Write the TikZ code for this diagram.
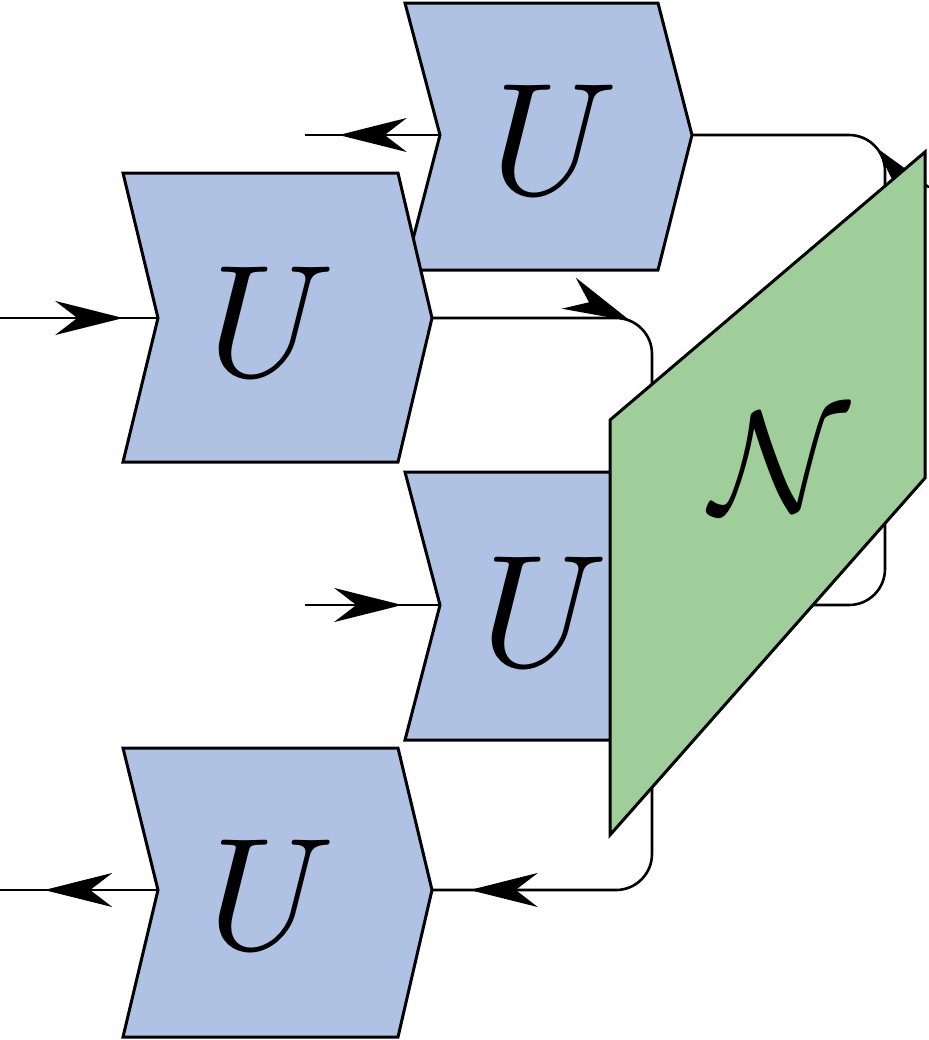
\documentclass[tikz,border=0pt]{standalone}
\usetikzlibrary{arrows.meta,decorations.markings}
\definecolor{ublue}{RGB}{176,194,228}
\definecolor{ngreen}{RGB}{160,206,155}
\tikzset{
 ubox/.style={draw=black,fill=ublue,line width=1.5pt,line join=miter},
 nbox/.style={draw=black,fill=ngreen,line width=1.5pt},
 wire/.style={line width=1.3pt,rounded corners=18pt},
 arrowat/.style={postaction={decorate},decoration={markings,mark=at position #1 with {\arrow{Stealth[length=34pt,width=17pt]}}}},
 lbl/.style={scale=8,inner sep=0pt}
}
\begin{document}
\begin{tikzpicture}[x=0.5pt,y=-0.5pt]
\useasboundingbox (0,0) rectangle (928,1040);
% chevrons
\draw[ubox] (405,3)--(658,3)--(692,135)--(658,270)--(405,270)--(440,135)--cycle;
\node[lbl] (u1) at (555,140) {$U$};
\draw[ubox] (123,173)--(398,173)--(432,318)--(398,462)--(123,462)--(158,318)--cycle;
\node[lbl] (u2) at (272,322) {$U$};
\draw[ubox] (405,472)--(658,472)--(692,605)--(658,740)--(405,740)--(440,605)--cycle;
\node[lbl] (u3) at (545,612) {$U$};
\draw[ubox] (123,748)--(398,748)--(432,890)--(398,1037)--(123,1037)--(158,890)--cycle;
\node[lbl] (u4) at (272,895) {$U$};
% named endpoints
\coordinate (u1in) at (692,135); \coordinate (u1out) at (440,135); \coordinate (a1) at (305,135);
\coordinate (b0) at (0,318); \coordinate (u2in) at (158,318); \coordinate (u2out) at (432,318);
\coordinate (c0) at (305,605); \coordinate (u3in) at (440,605);
\coordinate (u4in) at (432,890); \coordinate (u4out) at (158,890); \coordinate (d0) at (0,890);
% wires
\draw[wire,arrowat=0.45] (885,300)--(885,135)--(u1in);
\draw[wire,arrowat=0.75] (u1out)--(a1);
\draw[wire,arrowat=0.78] (b0)--(u2in);
\draw[wire,arrowat=0.65] (u2out)--(652,318)--(652,420);
\draw[wire,arrowat=0.72] (c0)--(u3in);
\draw[wire] (885,480)--(885,605)--(760,605);
\draw[wire,arrowat=0.88] (652,780)--(652,890)--(u4in);
\draw[wire,arrowat=0.72] (u4out)--(d0);
% N
\draw[nbox] (610,420)--(925,152)--(925,478)--(610,835)--cycle;
\node[lbl,scale=0.9] (N) at (780,462) {$\mathcal{N}$};
\end{tikzpicture}
\end{document}
